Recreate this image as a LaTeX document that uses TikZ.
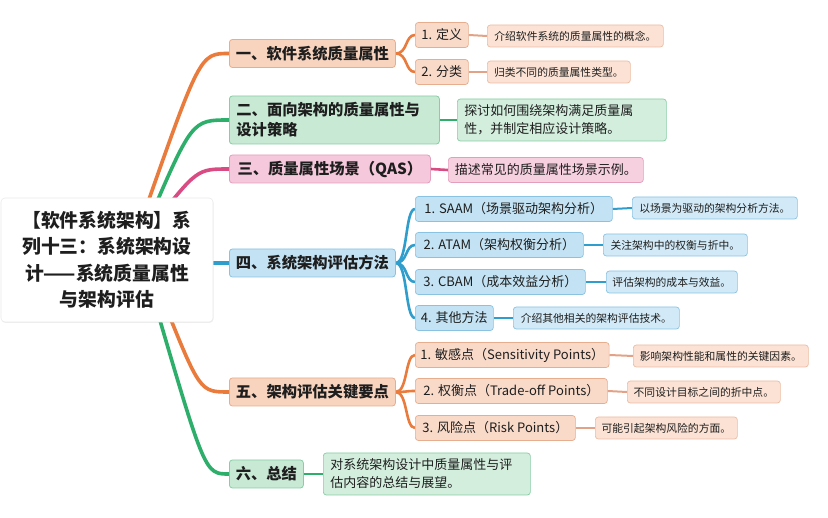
\documentclass[tikz,border=0pt]{standalone}
\usepackage{fontspec}
\setmainfont{Noto Sans CJK SC}
\usetikzlibrary{backgrounds,shadows}
\definecolor{txt}{HTML}{1E1E1E}
\definecolor{orLine}{HTML}{E97B3C}
\definecolor{orFill}{HTML}{F8D4BF}
\definecolor{orDraw}{HTML}{E6AD8E}
\definecolor{orDesc}{HTML}{FBE2D4}
\definecolor{orLeaf}{HTML}{E3A287}
\definecolor{grLine}{HTML}{2DAE6A}
\definecolor{grFill}{HTML}{C8EAD5}
\definecolor{grDraw}{HTML}{88CDA4}
\definecolor{pkLine}{HTML}{D84C83}
\definecolor{pkFill}{HTML}{F6C8DB}
\definecolor{pkDraw}{HTML}{E39EBE}
\definecolor{blLine}{HTML}{2F9ECC}
\definecolor{blFill}{HTML}{C3E3F4}
\definecolor{blDraw}{HTML}{8AC3E2}
\definecolor{blDesc}{HTML}{D2EAF7}
\tikzset{
  rootbox/.style={rounded corners=4pt, fill=white, draw=black!8, line width=0.6pt,
    drop shadow={opacity=0.12, shadow xshift=0.5pt, shadow yshift=-1pt},
    font=\bfseries\fontsize{18.8}{26.5}\selectfont, text=txt, align=center},
  mainbox/.style={rounded corners=3pt, line width=0.8pt, text=txt,
    font=\bfseries\fontsize{15.3}{20}\selectfont, inner xsep=6pt, inner ysep=3pt,
    minimum height=28pt, anchor=west},
  kidbox/.style={rounded corners=3pt, line width=0.7pt, text=txt,
    font=\fontsize{13}{16}\selectfont, inner xsep=5pt, inner ysep=2pt,
    minimum height=25pt, anchor=west},
  descbox/.style={rounded corners=3pt, line width=0.7pt, text=txt,
    font=\fontsize{10.8}{14}\selectfont, inner xsep=5pt, inner ysep=2pt,
    minimum height=22pt, anchor=west},
  bigdesc/.style={rounded corners=3pt, line width=0.7pt, text=txt,
    font=\fontsize{13}{18}\selectfont, inner xsep=6pt, inner ysep=3pt, anchor=west, align=left},
  orM/.style={fill=orFill, draw=orDraw},
  orK/.style={fill=orFill!85!white, draw=orDraw},
  orD/.style={fill=orDesc, draw=orDraw!80!white},
  grM/.style={fill=grFill, draw=grDraw},
  pkM/.style={fill=pkFill, draw=pkDraw},
  blM/.style={fill=blFill, draw=blDraw},
  blD/.style={fill=blDesc, draw=blDraw},
  trunk/.style={line width=3.6pt, line cap=round},
  twig/.style={line width=2.6pt},
  leaf/.style={line width=2pt},
}
\begin{document}
\begin{tikzpicture}[x=1pt,y=-1pt]
\useasboundingbox (0,0) rectangle (828,518);

% root
\node[rootbox, minimum width=212pt, minimum height=124pt, text width=200pt] (root) at (107,260)
  {【软件系统架构】系\\列十三：系统架构设\\计——系统质量属性\\与架构评估};

% main nodes
\node[mainbox, orM, minimum width=166pt] (m1) at (229,53.5) {一、软件系统质量属性};
\node[mainbox, grM, minimum width=210pt, minimum height=48pt, text width=196pt, align=left] (m2) at (229,120) {二、面向架构的质量属性与\\设计策略};
\node[mainbox, pkM, minimum width=201pt] (m3) at (229,169) {三、质量属性场景（QAS）};
\node[mainbox, blM, minimum width=166pt] (m4) at (229,263) {四、系统架构评估方法};
\node[mainbox, orM, minimum width=166pt] (m5) at (229,392) {五、架构评估关键要点};
\node[mainbox, grM, minimum width=74pt] (m6) at (229,474) {六、总结};

% branch 1
\node[kidbox, orK, minimum width=53pt] (c11) at (415,35) {1. 定义};
\node[kidbox, orK, minimum width=53pt] (c12) at (415,72) {2. 分类};
\node[descbox, orD, minimum width=176pt] (d11) at (487,36) {介绍软件系统的质量属性的概念。};
\node[descbox, orD, minimum width=143pt] (d12) at (487,72) {归类不同的质量属性类型。};

% branch 2
\node[bigdesc, fill=grFill!80!white, draw=grDraw, minimum width=209pt, minimum height=42pt, text width=195pt] (d2) at (457,120) {探讨如何围绕架构满足质量属\\性，并制定相应设计策略。};

% branch 3
\node[bigdesc, fill=pkFill!85!white, draw=pkDraw, minimum width=195pt, minimum height=25pt] (d3) at (448,170) {描述常见的质量属性场景示例。};

% branch 4
\node[kidbox, blM, minimum width=197pt] (c41) at (415,209) {1. SAAM（场景驱动架构分析）};
\node[kidbox, blM, minimum width=168pt] (c42) at (415,245) {2. ATAM（架构权衡分析）};
\node[kidbox, blM, minimum width=170pt] (c43) at (415,282) {3. CBAM（成本效益分析）};
\node[kidbox, blM, minimum width=78pt] (c44) at (415,318) {4. 其他方法};
\node[descbox, blD, minimum width=165pt] (d41) at (632,208) {以场景为驱动的架构分析方法。};
\node[descbox, blD, minimum width=144pt] (d42) at (603,245) {关注架构中的权衡与折中。};
\node[descbox, blD, minimum width=131pt] (d43) at (606,282) {评估架构的成本与效益。};
\node[descbox, blD, minimum width=166pt] (d44) at (513,318) {介绍其他相关的架构评估技术。};

% branch 5
\node[kidbox, orK, minimum width=193pt] (c51) at (415,355) {1. 敏感点（Sensitivity Points）};
\node[kidbox, orK, minimum width=192pt] (c52) at (415,391) {2. 权衡点（Trade-off Points）};
\node[kidbox, orK, minimum width=160pt] (c53) at (415,428) {3. 风险点（Risk Points）};
\node[descbox, orD, minimum width=175pt] (d51) at (633,356) {影响架构性能和属性的关键因素。};
\node[descbox, orD, minimum width=153pt] (d52) at (627,392) {不同设计目标之间的折中点。};
\node[descbox, orD, minimum width=142pt] (d53) at (595,428) {可能引起架构风险的方面。};

% branch 6
\node[bigdesc, fill=grFill!80!white, draw=grDraw, minimum width=207pt, minimum height=42pt, text width=193pt] (d6) at (323,474) {对系统架构设计中质量属性与评\\估内容的总结与展望。};

\begin{scope}[on background layer]
  \fill[white] (0,0) rectangle (828,518);
  \coordinate (s1) at (140,225);
  \coordinate (s2) at (147,225);
  \coordinate (s3) at (153,225);
  \coordinate (s4) at (195,263);
  \coordinate (s5) at (163,300);
  \coordinate (s6) at (154,300);
  \draw[trunk, orLine] (s1) .. controls (200,53.5) .. (m1.west);
  \draw[trunk, grLine] (s2) .. controls (192,120) .. (m2.west);
  \draw[trunk, pkLine] (s3) .. controls (197,169) .. (m3.west);
  \draw[trunk, blLine] (s4) -- (m4.west);
  \draw[trunk, orLine] (s5) .. controls (200,392) .. (m5.west);
  \draw[trunk, grLine] (s6) .. controls (205,474) .. (m6.west);

  % twigs
  \draw[twig, orLine] (m1.east) .. controls +(12,0) and +(-10,0) .. (c11.west);
  \draw[twig, orLine] (m1.east) .. controls +(12,0) and +(-10,0) .. (c12.west);
  \foreach \k in {c41,c42,c43,c44}
    \draw[twig, blLine] (m4.east) .. controls +(12,0) and +(-10,0) .. (\k.west);
  \foreach \k in {c51,c52,c53}
    \draw[twig, orLine] (m5.east) .. controls +(12,0) and +(-10,0) .. (\k.west);
  \draw[twig, grLine] (m2.east) -- (d2.west);
  \draw[twig, pkLine] (m3.east) -- (d3.west);
  \draw[twig, grLine] (m6.east) -- (d6.west);

  % leaves
  \draw[leaf, orLeaf] (c11.east) -- (d11.west);
  \draw[leaf, orLeaf] (c12.east) -- (d12.west);
  \draw[leaf, blLine] (c41.east) -- (d41.west);
  \draw[leaf, blLine] (c42.east) -- (d42.west);
  \draw[leaf, blLine] (c43.east) -- (d43.west);
  \draw[leaf, blLine] (c44.east) -- (d44.west);
  \draw[leaf, orLeaf] (c51.east) -- (d51.west);
  \draw[leaf, orLeaf] (c52.east) -- (d52.west);
  \draw[leaf, orLeaf] (c53.east) -- (d53.west);
\end{scope}
\end{tikzpicture}
\end{document}
